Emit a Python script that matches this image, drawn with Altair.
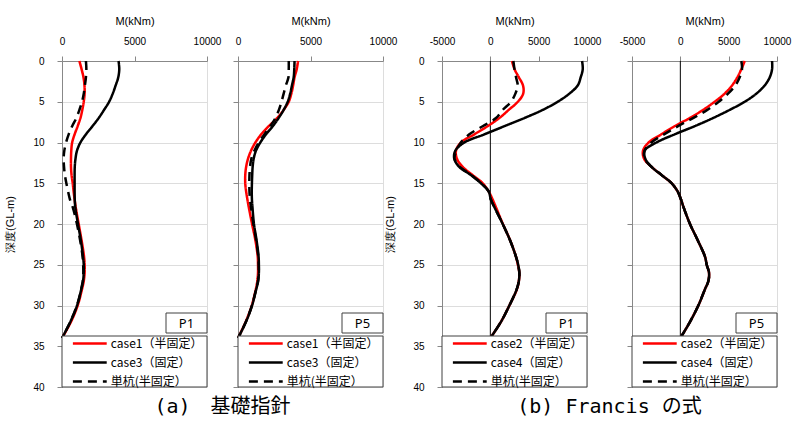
import altair as alt
import pandas as pd

# depth (GL-m) sampling points
DEPTH = [0, 1, 2, 3, 4, 5, 6, 7, 8, 9, 10, 11, 12, 13, 14, 15, 16, 17, 18, 20, 22, 24, 25, 26, 27, 28, 30, 32, 34]

# (a) 基礎指針  P1
A_P1_CASE1 = [1200, 1350, 1480, 1550, 1560, 1500, 1400, 1270, 1080, 870, 700, 640, 620, 620, 660, 740, 800, 870, 950, 1150, 1350, 1520, 1560, 1560, 1500, 1380, 1080, 620, 0]
A_P1_CASE3 = [3900, 3950, 3880, 3700, 3500, 3250, 2900, 2530, 2100, 1650, 1270, 1035, 930, 880, 870, 870, 870, 880, 920, 1100, 1300, 1450, 1500, 1500, 1450, 1330, 1035, 575, 0]
A_P1_SINGLE = [1650, 1680, 1650, 1580, 1500, 1380, 1200, 990, 700, 460, 280, 160, 115, 140, 200, 300, 420, 550, 750, 1030, 1250, 1420, 1460, 1470, 1430, 1320, 1030, 570, 0]

# (a) 基礎指針  P5
A_P5_CASE1 = [4140, 4050, 3900, 3800, 3680, 3500, 3150, 2700, 2120, 1600, 1200, 900, 690, 560, 500, 500, 560, 650, 750, 970, 1200, 1360, 1380, 1380, 1330, 1230, 950, 530, 0]
A_P5_CASE3 = [3900, 3880, 3840, 3720, 3600, 3430, 3150, 2800, 2400, 1930, 1540, 1240, 1080, 1010, 980, 960, 950, 960, 1000, 1100, 1280, 1420, 1440, 1440, 1390, 1260, 970, 550, 0]
A_P5_SINGLE = [3500, 3500, 3480, 3300, 3150, 3000, 2820, 2580, 2230, 1820, 1430, 1130, 920, 830, 790, 780, 790, 830, 900, 1060, 1250, 1400, 1430, 1430, 1380, 1250, 960, 545, 0]

# (b) Francis の式  P1
B_P1_CASE2 = [2240, 2500, 2950, 3380, 3400, 2850, 1900, 930, -280, -1660, -3040, -3550, -3450, -2860, -1830, -790, -170, 240, 600, 1300, 2050, 2650, 2850, 3000, 2950, 2750, 1970, 1100, 0]
B_P1_CASE4 = [9490, 9560, 9350, 9040, 8180, 6970, 5420, 3520, 1450, -620, -2690, -3620, -3730, -3210, -2000, -970, -170, 50, 450, 1280, 2040, 2650, 2880, 3000, 2950, 2730, 1970, 1100, 0]
B_P1_SINGLE = [2380, 2500, 2660, 2830, 2590, 2140, 1280, 590, -790, -2170, -3040, -3500, -3700, -3150, -1950, -950, -180, 60, 450, 1280, 2040, 2650, 2880, 3000, 2950, 2730, 1970, 1100, 0]

# (b) Francis の式  P5
B_P5_CASE2 = [6660, 6310, 5900, 5350, 4590, 3550, 2350, 970, -590, -1970, -3280, -3860, -3750, -2970, -1930, -900, -280, 70, 350, 1000, 1800, 2550, 2730, 2970, 2900, 2550, 1860, 1000, 0]
B_P5_CASE4 = [9490, 9490, 9250, 8730, 7870, 6660, 5100, 3380, 1480, -590, -2480, -3690, -3620, -2970, -1930, -900, -280, 70, 350, 1000, 1800, 2550, 2730, 2970, 2900, 2550, 1860, 1000, 0]
B_P5_SINGLE = [6310, 6380, 6140, 5690, 4930, 3970, 2790, 1310, -240, -1690, -3000, -3690, -3700, -2970, -1930, -900, -280, 70, 350, 1000, 1800, 2550, 2730, 2970, 2900, 2550, 1860, 1000, 0]

LABELS_A = ["case1（半固定）", "case3（固定）", "単杭(半固定）"]
LABELS_B = ["case2（半固定）", "case4（固定）", "単杭(半固定）"]
TICKS_A = [0, 5000, 10000]
TICKS_B = [-5000, 0, 5000, 10000]
DEPTH_TICKS = [0, 5, 10, 15, 20, 25, 30, 35, 40]
TITLE_A = "(a)　基礎指針"
TITLE_B = "(b) Francis の式"

W, H = 145, 326
JP = "Noto Sans CJK JP"
TFONT = "DejaVu Sans Mono, Noto Sans CJK JP"


def panel(series, labels, lo, ticks, show_y, tag, zero_line, title=None, title_dx=0):
    rows = []
    for lab, vals in zip(labels, series):
        for d, m in zip(DEPTH, vals):
            rows.append({"d": d, "m": m, "s": lab})
    df = pd.DataFrame(rows)

    xenc = alt.X("m:Q", scale=alt.Scale(domain=[lo, 10000], nice=False, zero=False),
                 axis=alt.Axis(orient="top", values=ticks, title="M(kNm)", grid=False,
                               labelFlush=False, labelOverlap=False,
                               labelExpr="'' + datum.value", titleFontWeight="normal",
                               labelPadding=10, titlePadding=10))
    if show_y:
        yaxis = alt.Axis(values=DEPTH_TICKS, grid=True, title="深度(GL-m)", labelPadding=13,
                         titlePadding=17, titleFontWeight="normal")
    else:
        yaxis = alt.Axis(values=DEPTH_TICKS, grid=True, title=None, labels=False)
    yenc = alt.Y("d:Q", scale=alt.Scale(domain=[0, 40], reverse=True, nice=False), axis=yaxis)

    leg = alt.Legend(orient="none", legendX=3, legendY=270, title=None,
                     symbolType="M-1.513,0H1.513", symbolSize=500, symbolStrokeWidth=2.5,
                     labelFontSize=12, labelFont=JP, labelColor="#000", rowPadding=0,
                     symbolOffset=12.3, labelOffset=8.5, padding=0)

    lines = alt.Chart(df).mark_line(strokeWidth=2.5, interpolate="catmull-rom").encode(
        x=xenc, y=yenc,
        color=alt.Color("s:N", scale=alt.Scale(domain=labels, range=["#ff0000", "#000000", "#000000"]), legend=leg),
        strokeDash=alt.StrokeDash("s:N", scale=alt.Scale(domain=labels, range=[[1, 0], [1, 0], [9, 6]]), legend=leg),
        order="d:Q",
    )

    one = pd.DataFrame({"m": [0]})
    box = alt.Chart(one).mark_rect(fill="white", stroke="#404040", strokeWidth=1).encode(
        x=alt.value(0), x2=alt.value(W), y=alt.value(275), y2=alt.value(H))
    tagbox = alt.Chart(one).mark_rect(fill="white", stroke="#404040", strokeWidth=1).encode(
        x=alt.value(104), x2=alt.value(W), y=alt.value(252), y2=alt.value(272))
    tagtext = alt.Chart(one).mark_text(font="Noto Sans", fontSize=13, color="#000", baseline="middle").encode(
        x=alt.value(124.5), y=alt.value(262.5), text=alt.value(tag))

    layers = []
    if zero_line:
        layers.append(alt.Chart(one).mark_rule(color="black", strokeWidth=1).encode(x="m:Q"))
    layers += [lines, box, tagbox, tagtext]
    if title:
        layers.append(alt.Chart(one).mark_text(font=TFONT, fontSize=20, color="#000", baseline="middle",
                                               align="center").encode(
            x=alt.value(title_dx), y=alt.value(346), text=alt.value(title)))
    return alt.layer(*layers).properties(width=W, height=H)


def spacer(w):
    one = pd.DataFrame({"m": [0]})
    return alt.Chart(one).mark_point(opacity=0).encode(x=alt.value(0), y=alt.value(0)).properties(
        width=w, height=H, view=alt.ViewBackground(strokeWidth=0))


p1 = panel([A_P1_CASE1, A_P1_CASE3, A_P1_SINGLE], LABELS_A, 0, TICKS_A, True, "P1", False,
           TITLE_A, (W + 31 + W) / 2)
p2 = panel([A_P5_CASE1, A_P5_CASE3, A_P5_SINGLE], LABELS_A, 0, TICKS_A, False, "P5", False)
p3 = panel([B_P1_CASE2, B_P1_CASE4, B_P1_SINGLE], LABELS_B, -5000, TICKS_B, True, "P1", True,
           TITLE_B, (W + 45 + W) / 2)
p4 = panel([B_P5_CASE2, B_P5_CASE4, B_P5_SINGLE], LABELS_B, -5000, TICKS_B, False, "P5", True)

chart = alt.hconcat(p1, spacer(31), p2, spacer(59), p3, spacer(45), p4, spacing=0, bounds="flush").resolve_scale(
    color="independent", strokeDash="independent", x="independent", y="independent"
).properties(padding={"left": 4, "top": 14, "right": 5, "bottom": 5}).configure_view(
    stroke="#bfbfbf", strokeWidth=1
).configure_axis(
    labelFont="Noto Sans", labelFontSize=13.5, labelColor="#000",
    titleFont=JP, titleFontSize=14.5, titleColor="#000", titleFontWeight="normal",
    domainColor="#000", domainWidth=1, ticks=False, gridColor="#bfbfbf", gridWidth=1
).configure(background="white")

chart.save("out.html", embed_options={"renderer": "svg", "actions": False})
